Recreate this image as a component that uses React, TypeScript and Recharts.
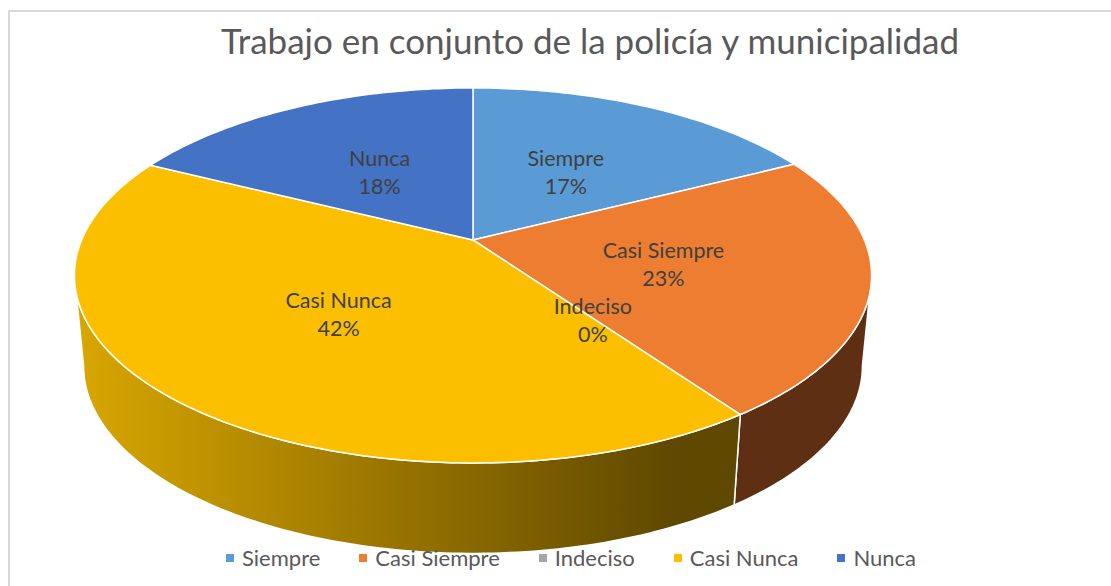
import { Legend, Pie, PieChart } from "recharts"

const categories = ["Siempre", "Casi Siempre", "Indeciso", "Casi Nunca", "Nunca"]
const shares = [17.49, 22.71, 0, 42.2, 17.6]
const colors = ["#5B9BD5", "#ED7D31", "#A5A5A5", "#FBBF00", "#4472C4"]
const wallFills = ["#2F4E6B", "#5E2F13", "#535353", "url(#wallYellow)", "#223962"]

const data = categories.map((name, i) => ({ name, value: shares[i], fill: colors[i] }))

const title = "Trabajo en conjunto de la policía y municipalidad"
const font = "Lato, sans-serif"

// the tilted disc: perspective projection of the flat pie
const SCALE_X = 391.4
const SCALE_Y = 180.8
const TILT = 0.189
const DEPTH = 90.5
const FOOT_SHRINK = 0.977
const WIDEST = (Math.asin(TILT) * 180) / Math.PI

function project(cx: number, cy: number, frac: number, deg: number) {
  const rad = (deg * Math.PI) / 180
  const u = frac * Math.cos(rad)
  const v = frac * Math.sin(rad)
  const d = 1 + TILT * v
  return { x: cx + (SCALE_X * u) / d, y: cy - (SCALE_Y * v) / d }
}

function arcPoints(cx: number, cy: number, from: number, to: number) {
  const steps = Math.max(2, Math.ceil(Math.abs(from - to)))
  const pts = []
  for (let i = 0; i <= steps; i++) {
    pts.push(project(cx, cy, 1, from + ((to - from) * i) / steps))
  }
  return pts
}

const toPath = (pts: { x: number; y: number }[]) =>
  pts.map((p, i) => `${i ? "L" : "M"}${p.x.toFixed(2)} ${p.y.toFixed(2)}`).join(" ")

function DiscSlice(props: any) {
  const { cx, cy, startAngle, endAngle, fill, index } = props
  if (startAngle === endAngle) return null
  const rim = arcPoints(cx, cy, startAngle, endAngle)
  const top = `M${cx} ${cy} ${toPath(rim).replace("M", "L")} Z`

  // the wall only shows between the two widest points of the rim
  const from = Math.min(startAngle, -WIDEST)
  const to = Math.max(endAngle, -180 + WIDEST)
  let wall = null
  if (from > to) {
    const edge = arcPoints(cx, cy, from, to)
    const foot = [...edge].reverse().map((p) => ({
      x: cx + (p.x - cx) * FOOT_SHRINK,
      y: p.y + DEPTH,
    }))
    wall = <path d={`${toPath(edge)} ${toPath(foot).replace("M", "L")} Z`} fill={wallFills[index]} stroke="#fff" strokeWidth={1.5} strokeLinejoin="round" />
  }
  return (
    <g>
      {wall}
      <path d={top} fill={fill} stroke="#fff" strokeWidth={1.5} strokeLinejoin="round" />
    </g>
  )
}

function SliceLabel(props: any) {
  const { cx, cy, midAngle, name, percent } = props
  const p = project(cx, cy, 0.49, midAngle)
  return (
    <text x={p.x} y={p.y + 3} textAnchor="middle" fontFamily={font} fontSize={21.5} fill="#404040">
      <tspan x={p.x} dy={-7}>{name}</tspan>
      <tspan x={p.x} dy={28}>{`${Math.round(percent * 100)}%`}</tspan>
    </text>
  )
}

function LegendRow({ payload }: any) {
  return (
    <div style={{ display: "flex", gap: 39, fontFamily: font, fontSize: 22, color: "#595959", whiteSpace: "nowrap" }}>
      {(payload || []).map((entry: any) => (
        <div key={entry.value} style={{ display: "flex", alignItems: "center", gap: 8 }}>
          <span style={{ width: 8, height: 8, background: entry.color, display: "inline-block" }} />
          <span>{entry.value}</span>
        </div>
      ))}
    </div>
  )
}

export default function App() {
  return (
    <div style={{ position: "absolute", left: 0, top: 0, width: 1111, height: 586, background: "#fff", overflow: "hidden" }}>
      <div style={{ position: "absolute", left: 8, top: 10, width: 1103, height: 576, borderLeft: "2px solid #D9D9D9", borderTop: "2px solid #D9D9D9" }} />
      <PieChart width={1111} height={586} margin={{ top: 0, right: 0, bottom: 0, left: 0 }}>
        <defs>
          <linearGradient id="wallYellow" x1="0" y1="0" x2="1" y2="0">
            <stop offset="0%" stopColor="#D9A700" />
            <stop offset="90%" stopColor="#5F4800" />
            <stop offset="100%" stopColor="#5F4800" />
          </linearGradient>
        </defs>
        <text x={590} y={54} textAnchor="middle" fontFamily={font} fontSize={35} fill="#595959">
          {title}
        </text>
        <Pie
          data={data}
          dataKey="value"
          nameKey="name"
          cx={473}
          cy={240}
          outerRadius={200}
          startAngle={90}
          endAngle={-270}
          shape={DiscSlice}
          label={SliceLabel}
          labelLine={false}
          isAnimationActive={false}
        />
        <Legend content={LegendRow} itemSorter={null} wrapperStyle={{ position: "absolute", left: 226, top: 544, width: "auto", bottom: "auto" }} />
      </PieChart>
    </div>
  )
}
